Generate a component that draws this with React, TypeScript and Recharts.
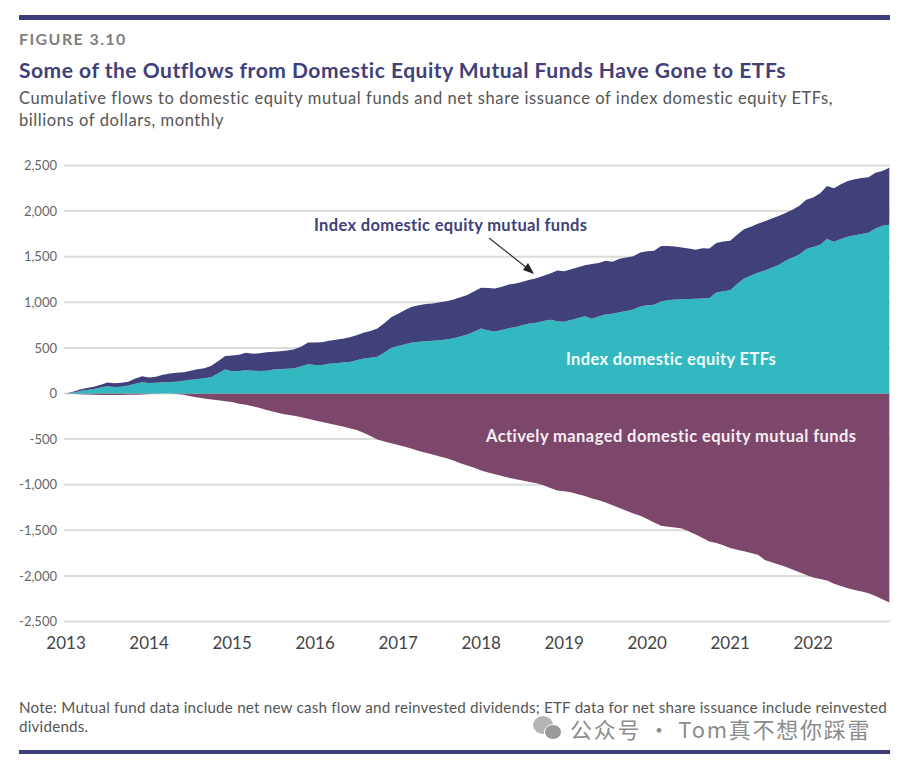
import React from "react";
import { AreaChart, Area, XAxis, YAxis, CartesianGrid } from "recharts";

const yearLabels = ["2013", "2014", "2015", "2016", "2017", "2018", "2019", "2020", "2021", "2022"];
const yearTicks = [0, 12, 24, 36, 48, 60, 72, 84, 96, 108];
const valueTicks = [2500, 2000, 1500, 1000, 500, 0, -500, -1000, -1500, -2000, -2500];

// Index domestic equity ETFs, one value per month from January 2013
const etfFlows = [
  0, 12, 28, 38, 50, 65, 80, 70, 75, 88, 108, 124,
  114, 118, 124, 126, 128, 140, 152, 158, 168, 180, 222, 263,
  245, 248, 256, 249, 248, 250, 262, 268, 272, 276, 300, 322,
  312, 312, 325, 333, 340, 345, 365, 385, 392, 402, 450, 498,
  520, 540, 560, 568, 572, 578, 585, 592, 605, 625, 648, 680,
  713, 690, 680, 695, 716, 730, 750, 768, 775, 795, 808, 792,
  788, 805, 828, 848, 820, 845, 868, 875, 890, 905, 922, 955,
  968, 972, 1010, 1022, 1030, 1034, 1036, 1038, 1042, 1048, 1108, 1122,
  1132, 1200, 1262, 1295, 1325, 1350, 1380, 1410, 1455, 1490, 1525, 1585,
  1605, 1630, 1695, 1665, 1695, 1720, 1735, 1750, 1762, 1810, 1840, 1850,
];

// Index domestic equity mutual funds
const indexFundFlows = [
  0, 8, 16, 22, 25, 30, 40, 42, 43, 42, 57, 66,
  61, 65, 81, 93, 100, 92, 98, 107, 110, 125, 133, 147,
  173, 177, 192, 187, 192, 202, 196, 194, 200, 210, 215, 236,
  248, 250, 253, 257, 260, 273, 275, 280, 293, 310, 320, 337,
  355, 375, 390, 400, 408, 410, 415, 420, 425, 430, 432, 440,
  447, 468, 470, 475, 479, 475, 475, 480, 490, 495, 508, 558,
  552, 557, 557, 557, 600, 587, 588, 569, 588, 585, 583, 590,
  592, 593, 608, 594, 582, 568, 554, 537, 550, 542, 542, 546,
  542, 540, 538, 533, 535, 540, 540, 535, 525, 525, 535, 540,
  545, 565, 580, 585, 600, 610, 615, 612, 608, 610, 600, 625,
];

// Actively managed domestic equity mutual funds
const activeFundFlows = [
  0, -3, -7, -12, -15, -16, -17, -17, -16, -15, -13, -10,
  -6, -2, 0, -1, -6, -15, -30, -45, -55, -65, -75, -85,
  -92, -112, -122, -140, -160, -180, -200, -219, -232, -245, -260, -278,
  -295, -312, -328, -345, -362, -380, -400, -430, -465, -505, -525, -545,
  -565, -585, -605, -630, -650, -670, -690, -710, -735, -765, -790, -815,
  -845, -866, -885, -905, -925, -940, -955, -970, -985, -1005, -1035, -1064,
  -1072, -1082, -1105, -1125, -1150, -1170, -1195, -1225, -1255, -1285, -1315, -1340,
  -1375, -1415, -1451, -1460, -1470, -1480, -1510, -1545, -1585, -1623, -1640, -1665,
  -1695, -1712, -1730, -1750, -1768, -1825, -1850, -1875, -1900, -1930, -1960, -1990,
  -2017, -2035, -2050, -2085, -2110, -2135, -2155, -2170, -2190, -2220, -2255, -2292,
];

const rows = etfFlows.map((etf, month) => ({
  month,
  etf,
  indexFund: indexFundFlows[month],
  active: activeFundFlows[month],
}));

const NAVY = "#40407a";
const TEAL = "#33b8bf";
const PLUM = "#7d476b";
const FONT = "Lato, 'Open Sans', sans-serif";

const abs = (s: React.CSSProperties): React.CSSProperties => ({
  position: "absolute",
  whiteSpace: "nowrap",
  fontFamily: FONT,
  lineHeight: 1,
  ...s,
});

export default function App() {
  return (
    <div style={{ position: "absolute", left: 0, top: 0, width: 900, height: 764, background: "#fff", overflow: "hidden" }}>
      <div style={abs({ left: 19, top: 15, width: 871, height: 5, background: "#3d3d7c" })} />
      <div style={abs({ left: 19, top: 31, fontSize: 16, fontWeight: 700, color: "#808080", letterSpacing: 1.4 })}>FIGURE 3.10</div>
      <div style={abs({ left: 19, top: 59, fontSize: 21, fontWeight: 700, color: NAVY, letterSpacing: 0.52 })}>
        Some of the Outflows from Domestic Equity Mutual Funds Have Gone to ETFs
      </div>
      <div style={abs({ left: 19, top: 90, fontSize: 16.5, color: "#555", letterSpacing: 0.58 })}>
        Cumulative flows to domestic equity mutual funds and net share issuance of index domestic equity ETFs,
      </div>
      <div style={abs({ left: 19, top: 112, fontSize: 16.5, color: "#555", letterSpacing: 0.58 })}>billions of dollars, monthly</div>

      <div style={{ position: "absolute", left: 0, top: 0 }}>
        <AreaChart
          width={900}
          height={764}
          data={rows}
          margin={{ top: 165.5, right: 10, bottom: 112.5, left: 0 }}
        >
          <CartesianGrid vertical={false} stroke="#dcdcdc" strokeWidth={2} />
          <XAxis
            dataKey="month"
            type="number"
            domain={[-0.3, 119.1]}
            ticks={yearTicks}
            tickFormatter={(_v: number, i: number) => yearLabels[i]}
            height={30}
            axisLine={false}
            tickLine={false}
            interval={0}
            tickMargin={9}
            tick={{ fontSize: 17, fill: "#444", fontFamily: FONT }}
          />
          <YAxis
            type="number"
            domain={[-2500, 2500]}
            ticks={valueTicks}
            tickFormatter={(v: number) => v.toLocaleString("en-US")}
            width={64}
            axisLine={false}
            tickLine={false}
            interval={0}
            tickMargin={1}
            tick={{ fontSize: 13, fill: "#666", fontFamily: FONT }}
          />
          <Area dataKey="active" stackId="out" stroke="none" fill={PLUM} fillOpacity={1} isAnimationActive={false} dot={false} activeDot={false} />
          <Area dataKey="etf" stackId="in" stroke="none" fill={TEAL} fillOpacity={1} isAnimationActive={false} dot={false} activeDot={false} />
          <Area dataKey="indexFund" stackId="in" stroke="none" fill={NAVY} fillOpacity={1} isAnimationActive={false} dot={false} activeDot={false} />
        </AreaChart>
      </div>

      <div style={abs({ left: 314, top: 217, fontSize: 16.5, fontWeight: 700, color: NAVY, letterSpacing: 0.33 })}>Index domestic equity mutual funds</div>
      <div style={abs({ left: 566, top: 351, fontSize: 16.5, fontWeight: 700, color: "#f2fbfb", letterSpacing: 0.35 })}>Index domestic equity ETFs</div>
      <div style={abs({ left: 486, top: 428, fontSize: 16.5, fontWeight: 700, color: "#f6eef3", letterSpacing: 0.43 })}>Actively managed domestic equity mutual funds</div>

      <svg width={900} height={764} style={{ position: "absolute", left: 0, top: 0, pointerEvents: "none" }}>
        <line x1={489} y1={238} x2={527} y2={268} stroke="#333" strokeWidth={1.2} />
        <polygon points="534,274 523,270 528,263" fill="#222" />
        <ellipse cx={543} cy={725} rx={10} ry={9} fill="#b5b5b5" />
        <ellipse cx={553} cy={732} rx={8.5} ry={7.5} fill="#9a9a9a" stroke="#fff" strokeWidth={1} />
      </svg>

      <div style={abs({ left: 19, top: 700, fontSize: 15.2, color: "#555", letterSpacing: 0.21 })}>
        Note: Mutual fund data include net new cash flow and reinvested dividends; ETF data for net share issuance include reinvested
      </div>
      <div style={abs({ left: 19, top: 719, fontSize: 15.2, color: "#555", letterSpacing: 0.21 })}>dividends.</div>
      <div style={abs({ left: 570, top: 717, fontSize: 22, color: "#8c8c8c", letterSpacing: 1.75, fontFamily: "'Noto Sans CJK SC', 'Noto Sans', sans-serif" })}>
        公众号 · Tom真不想你踩雷
      </div>
      <div style={abs({ left: 19, top: 750, width: 871, height: 4, background: "#3d3d7c" })} />
    </div>
  );
}
